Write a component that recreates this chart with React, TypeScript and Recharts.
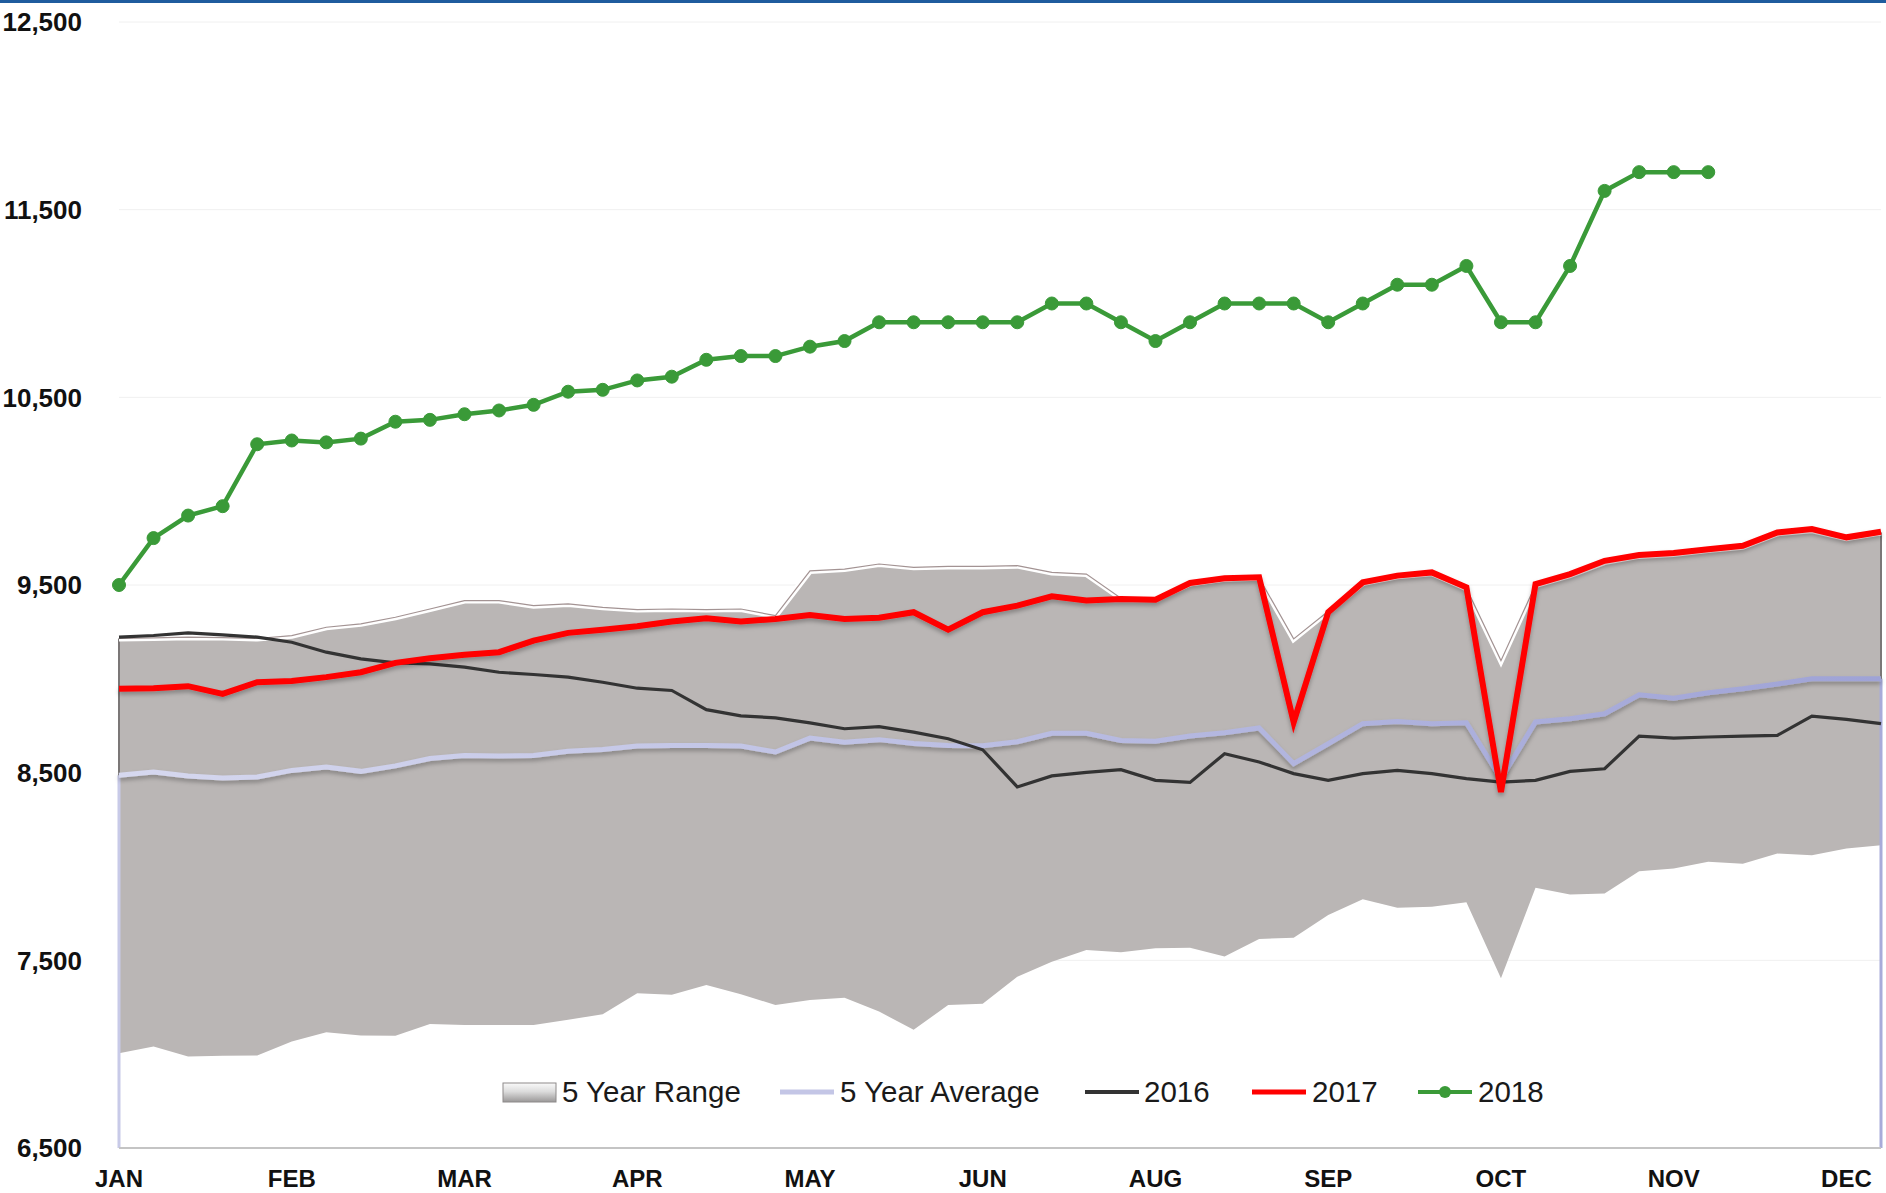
import React from "react";
import {
  ComposedChart,
  Area,
  Line,
  XAxis,
  YAxis,
  CartesianGrid,
  ReferenceLine,
} from "recharts";

// weekly series, week 0 = first week of JAN, week 51 = DEC
const monthTickWeeks = [0, 5, 10, 15, 20, 25, 30, 35, 40, 45, 50];
const monthTicks = ["JAN", "FEB", "MAR", "APR", "MAY", "JUN", "AUG", "SEP", "OCT", "NOV", "DEC"];
const yTicks = [6500, 7500, 8500, 9500, 10500, 11500, 12500];

const rangeLow = [
  7005, 7041, 6988, 6991, 6993, 7067, 7117, 7099, 7098, 7161, 7156, 7156, 7156, 7183, 7213, 7325, 7316,
  7369, 7319, 7262, 7289, 7301, 7227, 7130, 7262, 7268, 7413, 7493, 7555, 7543, 7564, 7567, 7520, 7614,
  7621, 7741, 7826, 7780, 7786, 7809, 7404, 7887, 7851, 7856, 7975, 7990, 8025, 8015, 8069, 8060, 8096,
  8113,
];
const rangeHigh = [
  9215, 9218, 9222, 9220, 9215, 9230, 9275, 9293, 9328, 9372, 9417, 9417, 9390, 9399, 9381, 9369, 9372,
  9369, 9372, 9337, 9575, 9585, 9612, 9594, 9599, 9599, 9603, 9567, 9558, 9430, 9425, 9508, 9533, 9538,
  9213, 9360, 9510, 9546, 9563, 9483, 9097, 9500, 9552, 9622, 9655, 9665, 9686, 9704, 9775, 9792, 9750,
  9780,
];
const avg5 = [
  8486, 8504, 8482, 8472, 8477, 8512, 8530, 8507, 8536, 8575, 8592, 8589, 8592, 8614, 8624, 8642, 8645,
  8645, 8642, 8610, 8684, 8662, 8676, 8656, 8645, 8643, 8665, 8710, 8710, 8672, 8667, 8695, 8713, 8738,
  8548, 8654, 8761, 8773, 8761, 8766, 8468, 8770, 8787, 8814, 8915, 8897, 8926, 8947, 8973, 9000, 9000,
  9000,
];
const y2016 = [
  9222, 9231, 9245, 9234, 9222, 9195, 9142, 9106, 9085, 9080, 9062, 9035, 9023, 9009, 8982, 8950, 8938,
  8836, 8803, 8792, 8765, 8734, 8745, 8716, 8681, 8622, 8424, 8483, 8502, 8516, 8459, 8448, 8601, 8557,
  8495, 8459, 8495, 8512, 8495, 8468, 8450, 8459, 8507, 8521, 8695, 8684, 8690, 8695, 8699, 8801, 8784,
  8761,
];
const y2017 = [
  8947, 8950, 8961, 8920, 8982, 8988, 9009, 9035, 9085, 9110, 9128, 9142, 9204, 9245, 9262, 9280, 9305,
  9323, 9305, 9319, 9340, 9319, 9326, 9355, 9262, 9355, 9390, 9440, 9417, 9426, 9422, 9511, 9536, 9541,
  8769, 9355, 9514, 9550, 9567, 9488, 8397, 9505, 9558, 9629, 9660, 9670, 9691, 9709, 9780, 9798, 9754,
  9784,
];
const y2018 = [
  9500, 9750, 9870, 9920, 10250, 10270, 10260, 10280, 10370, 10380, 10410, 10430, 10460, 10530, 10540,
  10590, 10610, 10700, 10720, 10720, 10770, 10800, 10900, 10900, 10900, 10900, 10900, 11000, 11000, 10900,
  10800, 10900, 11000, 11000, 11000, 10900, 11000, 11100, 11100, 11200, 10900, 10900, 11200, 11600, 11700,
  11700, 11700,
];

const FONT = "'Liberation Sans', Arial, sans-serif";
const RANGE_FILL = "#bab6b5";
const AVG_COLOR = "#c4c6e6";
const C2016 = "#333333";
const C2017 = "#ff0000";
const C2018 = "#3a9a38";

const data = rangeLow.map((lo, i) => ({
  week: i,
  range: [lo, rangeHigh[i]],
  high: rangeHigh[i],
  avg: avg5[i],
  y2016: y2016[i],
  y2017: y2017[i],
  y2018: y2018[i],
}));

const last = data.length - 1;

function LegendRow() {
  const text: React.CSSProperties = {
    position: "absolute",
    top: 0,
    fontFamily: FONT,
    fontSize: 29.5,
    lineHeight: "36px",
    color: "#1a1a1a",
    whiteSpace: "nowrap",
  };
  const swatch = (left: number, color: string, width: number, dot = false) => (
    <svg style={{ position: "absolute", left, top: 0 }} width={58} height={36}>
      <line x1={2} x2={56} y1={18} y2={18} stroke={color} strokeWidth={width} />
      {dot && <circle cx={29} cy={18} r={6} fill={color} />}
    </svg>
  );
  return (
    <div style={{ position: "absolute", left: 0, top: 1074, width: 1886, height: 36 }}>
      <svg style={{ position: "absolute", left: 502, top: 8 }} width={56} height={22}>
        <defs>
          <linearGradient id="legendRange" x1="0" y1="0" x2="0" y2="1">
            <stop offset="0%" stopColor="#fafafa" />
            <stop offset="45%" stopColor="#dcdcdc" />
            <stop offset="100%" stopColor="#9a9898" />
          </linearGradient>
        </defs>
        <rect x={1} y={1} width={53} height={19} fill="url(#legendRange)" stroke="#8d8a8a" strokeWidth={1} />
      </svg>
      <span style={{ ...text, left: 562 }}>5 Year Range</span>
      {swatch(778, AVG_COLOR, 5)}
      <span style={{ ...text, left: 840 }}>5 Year Average</span>
      {swatch(1083, C2016, 4)}
      <span style={{ ...text, left: 1144 }}>2016</span>
      {swatch(1250, C2017, 5)}
      <span style={{ ...text, left: 1312 }}>2017</span>
      {swatch(1416, C2018, 4, true)}
      <span style={{ ...text, left: 1478 }}>2018</span>
    </div>
  );
}

export default function App() {
  return (
    <div
      style={{
        position: "fixed",
        left: 0,
        top: 0,
        width: 1886,
        height: 1193,
        background: "#ffffff",
        overflow: "hidden",
      }}
    >
      <div style={{ position: "absolute", left: 0, top: 0, width: 1886, height: 3, background: "#1f5c9e" }} />
      <ComposedChart width={1886} height={1193} data={data} margin={{ top: 22, right: 5, bottom: 0, left: 0 }}>
        <defs>
          <linearGradient id="avgGrad" x1="0" y1="0" x2="1" y2="0">
            <stop offset="0%" stopColor="#d6d8ef" />
            <stop offset="100%" stopColor="#9fa3d6" />
          </linearGradient>
          <filter id="lineShadow" x="-5%" y="-20%" width="110%" height="140%">
            <feDropShadow dx="0" dy="3" stdDeviation="2" floodColor="#000000" floodOpacity="0.28" />
          </filter>
        </defs>
        <CartesianGrid vertical={false} stroke="#f0f0f0" strokeWidth={1} />
        <XAxis
          type="number"
          dataKey="week"
          domain={[0, 51]}
          ticks={monthTickWeeks}
          interval={0}
          tickFormatter={(v: number) => monthTicks[monthTickWeeks.indexOf(v)]}
          height={45}
          tickLine={false}
          tickSize={0}
          tickMargin={22}
          axisLine={{ stroke: "#c4c4c4", strokeWidth: 2 }}
          tick={{ fill: "#111111", fontSize: 24, fontWeight: 700, fontFamily: FONT }}
        />
        <YAxis
          type="number"
          domain={[6500, 12500]}
          ticks={yTicks}
          interval={0}
          width={119}
          axisLine={false}
          tickLine={false}
          tickSize={0}
          tickMargin={37}
          tickFormatter={(v: number) => v.toLocaleString("en-US")}
          tick={{ fill: "#111111", fontSize: 26, fontWeight: 700, fontFamily: FONT }}
        />
        <Area
          type="linear"
          dataKey="range"
          fill={RANGE_FILL}
          fillOpacity={1}
          stroke="none"
          isAnimationActive={false}
        />
        <ReferenceLine
          segment={[
            { x: 0, y: rangeLow[0] },
            { x: 0, y: rangeHigh[0] },
          ]}
          stroke="#7b7777"
          strokeWidth={2}
        />
        <ReferenceLine
          segment={[
            { x: last, y: rangeLow[last] },
            { x: last, y: rangeHigh[last] },
          ]}
          stroke="#7b7777"
          strokeWidth={2}
        />
        <Line
          type="linear"
          dataKey="high"
          stroke="#ffffff"
          strokeWidth={6}
          dot={false}
          activeDot={false}
          isAnimationActive={false}
        />
        <Line
          type="linear"
          dataKey="high"
          stroke="#a39393"
          strokeWidth={1.2}
          dot={false}
          activeDot={false}
          isAnimationActive={false}
        />
        <ReferenceLine
          segment={[
            { x: 0, y: 6500 },
            { x: 0, y: avg5[0] },
          ]}
          stroke="#c8cae8"
          strokeWidth={3}
        />
        <ReferenceLine
          segment={[
            { x: last, y: 6500 },
            { x: last, y: avg5[last] },
          ]}
          stroke="#a8abd9"
          strokeWidth={3}
        />
        <Line
          type="linear"
          dataKey="avg"
          stroke="url(#avgGrad)"
          strokeWidth={5}
          dot={false}
          activeDot={false}
          filter="url(#lineShadow)"
          isAnimationActive={false}
        />
        <Line
          type="linear"
          dataKey="y2016"
          stroke={C2016}
          strokeWidth={3.2}
          dot={false}
          activeDot={false}
          isAnimationActive={false}
        />
        <Line
          type="linear"
          dataKey="y2017"
          stroke={C2017}
          strokeWidth={6}
          dot={false}
          activeDot={false}
          filter="url(#lineShadow)"
          isAnimationActive={false}
        />
        <Line
          type="linear"
          dataKey="y2018"
          stroke={C2018}
          strokeWidth={4.5}
          dot={{ r: 6.5, fill: C2018, stroke: C2018, strokeWidth: 1 }}
          activeDot={false}
          isAnimationActive={false}
        />
      </ComposedChart>
      <LegendRow />
    </div>
  );
}
